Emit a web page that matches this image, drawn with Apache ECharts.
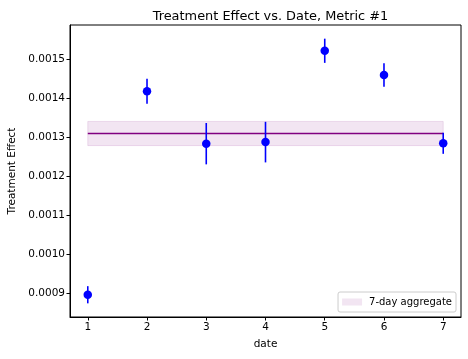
<!DOCTYPE html>
<html><head><meta charset="utf-8">
<script src="https://cdn.jsdelivr.net/npm/echarts@6/dist/echarts.min.js"></script>
<style>html,body{margin:0;padding:0;background:#fff}#c{width:468px;height:359px}</style>
</head><body><div id="c"></div>
<script>
const dates = [1, 2, 3, 4, 5, 6, 7];
const effects = [0.000896, 0.001417, 0.001283, 0.001287, 0.001521, 0.001459, 0.001284];
const errors = [0.000022, 0.000032, 0.000053, 0.000052, 0.000031, 0.000030, 0.000027];
const aggregate = 0.001309;
const aggregateErr = 0.000031;
const xTicks = [1, 2, 3, 4, 5, 6, 7];
const yTicks = [0.0009, 0.0010, 0.0011, 0.0012, 0.0013, 0.0014, 0.0015];

const font = 'DejaVu Sans';
const chart = echarts.init(document.getElementById('c'), null, {renderer: 'canvas'});
const pts = dates.map((d, i) => [d, effects[i]]);
const errData = dates.map((d, i) => [d, effects[i] - errors[i], effects[i] + errors[i]]);

chart.setOption({
  animation: false,
  title: {text: 'Treatment Effect vs. Date, Metric #1', left: 265.5, top: 5, textAlign: 'center',
    textStyle: {fontFamily: font, fontSize: 12.9, fontWeight: 'normal', color: '#000'}},
  grid: {left: 70, right: 7, top: 25, bottom: 42, show: true, borderColor: '#000', borderWidth: 1,
    containLabel: false, outerBoundsMode: 'none'},
  legend: {
    right: 12, bottom: 47, orient: 'vertical', data: [{name: '7-day aggregate', icon: 'rect'}],
    itemWidth: 20, itemHeight: 7, itemGap: 8, borderColor: '#ccc', borderWidth: 1, borderRadius: 2,
    padding: [5, 4, 5, 4], backgroundColor: '#fff',
    textStyle: {fontFamily: font, fontSize: 10, color: '#000', padding: [0, 0, 0, 2]}
  },
  xAxis: {
    type: 'value', min: 0.7, max: 7.3, name: 'date', nameLocation: 'middle', nameGap: 22,
    nameTextStyle: {fontFamily: font, fontSize: 10.5, color: '#000'},
    axisLine: {show: true, onZero: false, lineStyle: {color: '#000'}},
    axisTick: {show: true, length: 3.5, customValues: xTicks, lineStyle: {color: '#000'}},
    axisLabel: {customValues: xTicks, fontFamily: font, fontSize: 10.5, color: '#000', margin: 5},
    splitLine: {show: false}
  },
  yAxis: {
    type: 'value', min: 0.000839, max: 0.001587, name: 'Treatment Effect', nameLocation: 'middle', nameGap: 52,
    nameTextStyle: {fontFamily: font, fontSize: 10.5, color: '#000'},
    axisLine: {show: true, onZero: false, lineStyle: {color: '#000'}},
    axisTick: {show: true, length: 3.5, customValues: yTicks, lineStyle: {color: '#000'}},
    axisLabel: {customValues: yTicks, fontFamily: font, fontSize: 10.5, color: '#000', margin: 5,
      formatter: v => v.toFixed(4)},
    splitLine: {show: false}
  },
  series: [
    {
      name: '7-day aggregate', type: 'custom', z: 1,
      itemStyle: {color: 'rgba(128,0,128,0.1)'},
      data: [[dates[0], dates[dates.length - 1], aggregate - aggregateErr, aggregate + aggregateErr]],
      renderItem: (params, api) => {
        const p1 = api.coord([api.value(0), api.value(3)]);
        const p2 = api.coord([api.value(1), api.value(2)]);
        return {type: 'rect', shape: {x: p1[0], y: p1[1], width: p2[0] - p1[0], height: p2[1] - p1[1]},
          style: {fill: 'rgba(128,0,128,0.1)', stroke: 'rgba(128,0,128,0.12)', lineWidth: 1}};
      }
    },
    {
      name: 'agg', type: 'line', z: 2, symbol: 'none',
      data: [[dates[0], aggregate], [dates[dates.length - 1], aggregate]],
      lineStyle: {color: '#800080', width: 1.5}
    },
    {
      name: 'err', type: 'custom', z: 3, data: errData,
      renderItem: (params, api) => {
        const a = api.coord([api.value(0), api.value(1)]);
        const b = api.coord([api.value(0), api.value(2)]);
        return {type: 'line', shape: {x1: a[0], y1: a[1], x2: b[0], y2: b[1]},
          style: {stroke: '#0000ff', lineWidth: 1.6}};
      }
    },
    {
      name: 'pts', type: 'scatter', z: 4, data: pts, symbol: 'circle', symbolSize: 8.5,
      itemStyle: {color: '#0000ff', opacity: 1}
    }
  ]
});
</script></body></html>
